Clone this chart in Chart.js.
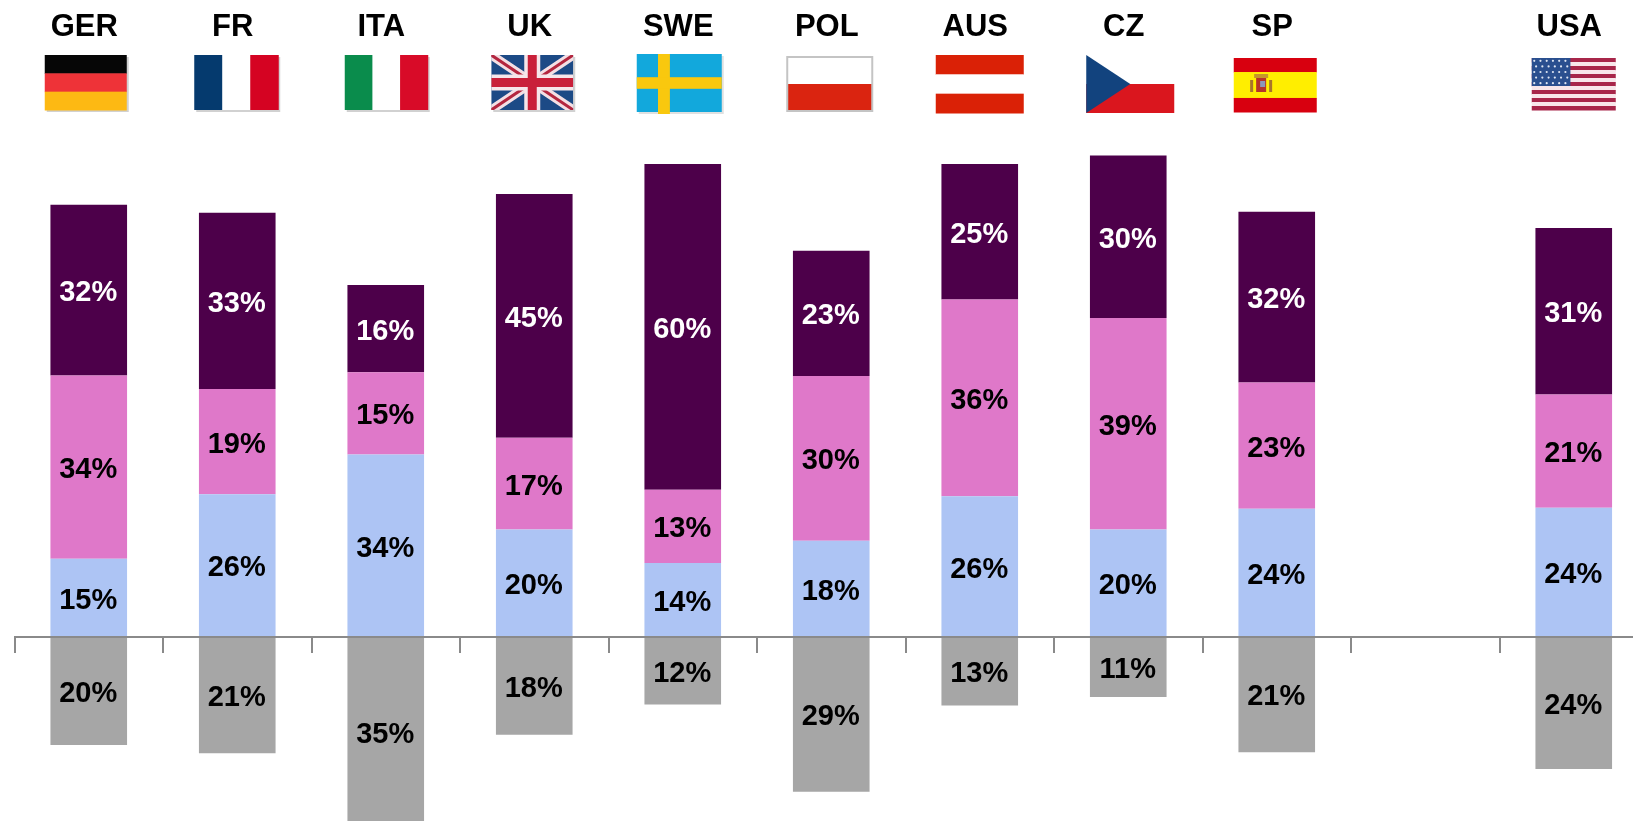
<!DOCTYPE html>
<html><head><meta charset="utf-8">
<style>html,body{margin:0;padding:0;background:#fff;overflow:hidden;width:1633px;height:821px}
#wrap{width:1633px;height:821px;overflow:hidden;position:relative}canvas{display:block;position:absolute;left:0;top:0}</style>
<script src="https://cdn.jsdelivr.net/npm/chart.js@4"></script></head>
<body><div id="wrap"><canvas id="c" width="1648" height="821" style="width:1648px;height:821px"></canvas></div>
<script>
const categories=["GER","FR","ITA","UK","SWE","POL","AUS","CZ","SP","","USA"];
const blueValues=[14.4,26.3,33.6,19.8,13.6,17.7,25.9,19.8,23.6,null,23.8];
const pinkValues=[33.8,19.4,15.2,16.9,13.5,30.4,36.3,39.0,23.3,null,20.9];
const purpleValues=[31.5,32.5,16.1,45.0,60.1,23.1,25.0,30.0,31.5,null,30.7];
const greyValues=[-20.0,-21.5,-35.0,-18.1,-12.5,-28.6,-12.7,-11.1,-21.3,null,-24.4];
const blueLabels=[15,26,34,20,14,18,26,20,24,null,24];
const pinkLabels=[34,19,15,17,13,30,36,39,23,null,21];
const purpleLabels=[32,33,16,45,60,23,25,30,32,null,31];
const greyLabels=[20,21,35,18,12,29,13,11,21,null,24];
const FONT='"Liberation Sans",Arial,sans-serif';

function shadow(c,x,y,w,h){c.fillStyle='rgba(0,0,0,0.18)';c.fillRect(x+2,y+2,w,h);}
function hs(c,x,y,w,h,cols,frac){let yy=y;cols.forEach((col,i)=>{const hh=h*(frac?frac[i]:1/cols.length);c.fillStyle=col;c.fillRect(x,yy,w,hh+0.5);yy+=hh;});}
function vs(c,x,y,w,h,cols){cols.forEach((col,i)=>{c.fillStyle=col;c.fillRect(x+w*i/cols.length,y,w/cols.length+0.5,h);});}
const flags={
GER(c,x,y,w,h){shadow(c,x,y,w,h);hs(c,x,y,w,h,['#060606','#ee3338','#fdb913']);},
FR(c,x,y,w,h){shadow(c,x,y,w,h);vs(c,x,y,w,h,['#053a6e','#ffffff','#d50322']);},
ITA(c,x,y,w,h){shadow(c,x,y,w,h);vs(c,x,y,w,h,['#0a8c4c','#ffffff','#d80b28']);},
UK(c,x,y,w,h){shadow(c,x,y,w,h);c.save();c.beginPath();c.rect(x,y,w,h);c.clip();c.fillStyle='#1c4a86';c.fillRect(x,y,w,h);
 c.lineCap='butt';c.strokeStyle='#f3dfe4';c.lineWidth=9;c.beginPath();c.moveTo(x,y);c.lineTo(x+w,y+h);c.moveTo(x+w,y);c.lineTo(x,y+h);c.stroke();
 c.strokeStyle='#b3263f';c.lineWidth=3;c.beginPath();c.moveTo(x,y);c.lineTo(x+w,y+h);c.moveTo(x+w,y);c.lineTo(x,y+h);c.stroke();
 c.fillStyle='#f6e6ea';c.fillRect(x+w/2-8,y,16,h);c.fillRect(x,y+h/2-8,w,16);
 c.fillStyle='#c9203a';c.fillRect(x+w/2-4.5,y,9,h);c.fillRect(x,y+h/2-4.5,w,9);c.restore();},
SWE(c,x,y,w,h){c.fillStyle='rgba(0,0,0,0.12)';c.fillRect(x+2,y+2,w,h);c.fillStyle='#12a8dc';c.fillRect(x,y,w,h);c.fillStyle='#f9c80e';c.fillRect(x+w*0.25,y,w*0.14,h+2);c.fillRect(x,y+h*0.40,w,h*0.2);},
POL(c,x,y,w,h){c.fillStyle='#c4c4c4';c.fillRect(x,y,w,h);c.fillStyle='#fff';c.fillRect(x+2,y+2,w-4,h/2-2);c.fillStyle='#da2410';c.fillRect(x+2,y+h/2,w-4,h/2-2);},
AUS(c,x,y,w,h){hs(c,x,y,w,h,['#da2106','#ffffff','#da2106']);},
CZ(c,x,y,w,h){c.fillStyle='#da161e';c.fillRect(x,y+h/2,w,h/2);c.fillStyle='#12437e';c.beginPath();c.moveTo(x,y);c.lineTo(x+w/2,y+h/2);c.lineTo(x,y+h);c.closePath();c.fill();},
SP(c,x,y,w,h){hs(c,x,y,w,h,['#d8000f','#ffee00','#d8000f'],[0.26,0.48,0.26]);
 const cx=x+w*0.33,cy=y+h/2;c.fillStyle='#b5342a';c.fillRect(cx-5,cy-7,10,14);c.fillStyle='#c7962a';c.fillRect(cx-7,cy-11,14,4);c.fillStyle='#a8752a';c.fillRect(cx-11,cy-5,3,12);c.fillRect(cx+8,cy-5,3,12);c.fillStyle='#8d97b8';c.fillRect(cx-1,cy-4,5,6);},
USA(c,x,y,w,h){for(let i=0;i<13;i++){c.fillStyle=i%2?'#f8e6ea':'#a8264a';c.fillRect(x,y+h*i/13,w,h/13+0.5);}
 const cw=w*0.46,ch=h*7/13;c.fillStyle='#2a4f8f';c.fillRect(x,y,cw,ch);c.fillStyle='#dfe6f2';
 for(let r=0;r<5;r++)for(let k=0;k<6;k++){c.beginPath();c.arc(x+cw*(k+0.5+(r%2?0.2:-0.1))/6.2,y+ch*(r+0.5)/5,1.1,0,7);c.fill();}}
};
const flagBoxes={GER:[-44,55,82,55],FR:[-43,55,84,55],ITA:[-41,55,83,55],UK:[-43,55,82,55],SWE:[-46,54,85,58],POL:[-45,56,87,56],AUS:[-44,55,88,58],CZ:[-42,55,88,58],SP:[-43,58,83,54],USA:[-42,58,84,52]};

const headerPlugin={id:'header',afterDraw(chart){
 const c=chart.ctx,xs=chart.scales.x;c.save();
 c.textAlign='center';c.textBaseline='middle';
 categories.forEach((name,i)=>{if(!name)return;const cx=xs.getPixelForValue(i);
  c.font='bold 31px '+FONT;c.fillStyle='#000';
  c.fillText(name,cx-4.5,27);
  const b=flagBoxes[name];flags[name](c,cx+b[0],b[1],b[2],b[3]);});
 c.restore();}};
const labelPlugin={id:'barLabels',afterDatasetsDraw(chart){
 const c=chart.ctx;c.save();c.font='bold 29px '+FONT;c.textAlign='center';c.textBaseline='middle';
 chart.data.datasets.forEach((ds,d)=>{chart.getDatasetMeta(d).data.forEach((el,i)=>{
  const t=ds.pct[i];if(t==null)return;c.fillStyle=ds.textColor;
  c.fillText(t+'%',el.x-0.5,(el.y+el.base)/2+3);});});
 c.restore();}};
new Chart(document.getElementById('c'),{type:'bar',
 data:{labels:categories,datasets:[
  {label:'A',data:blueValues,pct:blueLabels,textColor:'#000',backgroundColor:'#adc4f4'},
  {label:'B',data:pinkValues,pct:pinkLabels,textColor:'#000',backgroundColor:'#df78c9'},
  {label:'C',data:purpleValues,pct:purpleLabels,textColor:'#fff',backgroundColor:'#4d004a'},
  {label:'D',data:greyValues,pct:greyLabels,textColor:'#000',backgroundColor:'#a6a6a6'}]},
 options:{responsive:false,animation:false,devicePixelRatio:1,
  layout:{padding:{left:14.5,right:0,top:0,bottom:0}},
  datasets:{bar:{categoryPercentage:0.516,barPercentage:1,stack:'s'}},
  plugins:{legend:{display:false},tooltip:{enabled:false},title:{display:false}},
  scales:{
   x:{stacked:true,position:{y:0},offset:true,
    grid:{offset:true,drawOnChartArea:false,drawTicks:true,tickLength:15,color:'#8a8a8a',lineWidth:2,z:1},
    border:{display:true,color:'#8a8a8a',width:2,z:1},
    ticks:{display:false}},
   y:{display:false,stacked:true,min:-34.0,max:117.47,grid:{display:false}}}},
 plugins:[labelPlugin,headerPlugin]});
</script></body></html>
